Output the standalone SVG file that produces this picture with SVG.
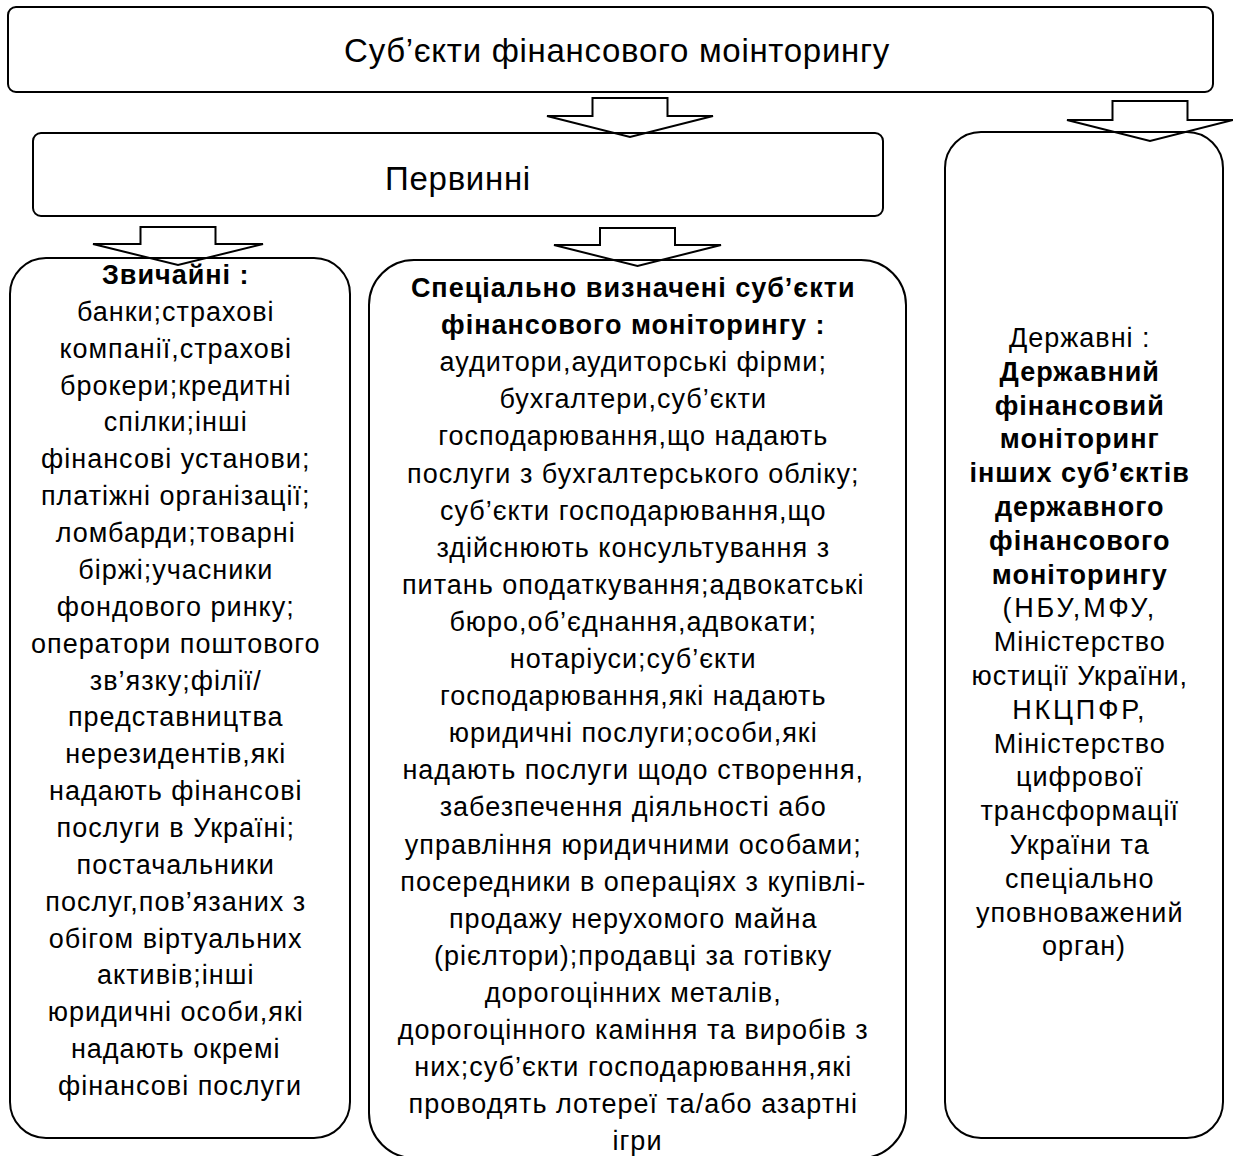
<svg xmlns="http://www.w3.org/2000/svg" width="1233" height="1156" viewBox="0 0 1233 1156">
<style>
.box{fill:#fff;stroke:#000;stroke-width:2}
.arr{fill:none;stroke:#000;stroke-width:2;stroke-linejoin:miter}
text{font-family:"Liberation Sans",Arial,sans-serif;fill:#000;text-anchor:middle}
.t{font-size:27px;letter-spacing:1px}
.h{font-size:33px;letter-spacing:0.7px}
.b{font-weight:bold}
.caps{letter-spacing:2.8px}
</style>
<rect width="1233" height="1156" fill="#fff"/>
<g id="node-top">
<rect class="box" x="8" y="7" width="1205" height="85" rx="8"/>
<text class="h" x="617" y="62">Суб’єкти фінансового моінторингу</text>
</g>
<g id="node-primary">
<rect class="box" x="33" y="133" width="850" height="83" rx="8"/>
<text class="h" x="458" y="190">Первинні</text>
</g>
<g id="node-state">
<rect class="box" x="945" y="132" width="278" height="1006" rx="36"/>
<text class="t">
<tspan x="1084" y="347">Державні :</tspan>
<tspan class="b" x="1084" y="380.8">Державний</tspan>
<tspan class="b" x="1084" y="414.6">фінансовий</tspan>
<tspan class="b" x="1084" y="448.4">моніторинг</tspan>
<tspan class="b" x="1084" y="482.2">інших суб’єктів</tspan>
<tspan class="b" x="1084" y="516">державного</tspan>
<tspan class="b" x="1084" y="549.8">фінансового</tspan>
<tspan class="b" x="1084" y="583.6">моніторингу</tspan>
<tspan class="caps" x="1084" y="617.4">(НБУ,МФУ,</tspan>
<tspan x="1084" y="651.2">Міністерство</tspan>
<tspan x="1084" y="685">юстиції України,</tspan>
<tspan class="caps" x="1084" y="718.8">НКЦПФР,</tspan>
<tspan x="1084" y="752.6">Міністерство</tspan>
<tspan x="1084" y="786.4">цифрової</tspan>
<tspan x="1084" y="820.2">трансформації</tspan>
<tspan x="1084" y="854">України та</tspan>
<tspan x="1084" y="887.8">спеціально</tspan>
<tspan x="1084" y="921.6">уповноважений</tspan>
<tspan x="1084" y="955.4">орган)</tspan>
</text>
</g>
<g id="node-ordinary">
<rect class="box" x="10" y="258" width="340" height="880" rx="36"/>
<text class="t">
<tspan class="b" x="180" y="284">Звичайні :</tspan>
<tspan x="180" y="320.9">банки;страхові</tspan>
<tspan x="180" y="357.7">компанії,страхові</tspan>
<tspan x="180" y="394.6">брокери;кредитні</tspan>
<tspan x="180" y="431.4">спілки;інші</tspan>
<tspan x="180" y="468.3">фінансові установи;</tspan>
<tspan x="180" y="505.2">платіжні організації;</tspan>
<tspan x="180" y="542">ломбарди;товарні</tspan>
<tspan x="180" y="578.9">біржі;учасники</tspan>
<tspan x="180" y="615.7">фондового ринку;</tspan>
<tspan x="180" y="652.6">оператори поштового</tspan>
<tspan x="180" y="689.5">зв’язку;філії/</tspan>
<tspan x="180" y="726.3">представництва</tspan>
<tspan x="180" y="763.2">нерезидентів,які</tspan>
<tspan x="180" y="800">надають фінансові</tspan>
<tspan x="180" y="836.9">послуги в Україні;</tspan>
<tspan x="180" y="873.8">постачальники</tspan>
<tspan x="180" y="910.6">послуг,пов’язаних з</tspan>
<tspan x="180" y="947.5">обігом віртуальних</tspan>
<tspan x="180" y="984.3">активів;інші</tspan>
<tspan x="180" y="1021.2">юридичні особи,які</tspan>
<tspan x="180" y="1058.1">надають окремі</tspan>
<tspan x="180" y="1094.9">фінансові послуги</tspan>
</text>
</g>
<g id="node-special">
<rect class="box" x="369" y="260" width="537" height="898" rx="45"/>
<text class="t">
<tspan class="b" x="637.5" y="297">Спеціально визначені суб’єкти</tspan>
<tspan class="b" x="637.5" y="334.1">фінансового моніторингу :</tspan>
<tspan x="637.5" y="371.2">аудитори,аудиторські фірми;</tspan>
<tspan x="637.5" y="408.3">бухгалтери,суб’єкти</tspan>
<tspan x="637.5" y="445.4">господарювання,що надають</tspan>
<tspan x="637.5" y="482.5">послуги з бухгалтерського обліку;</tspan>
<tspan x="637.5" y="519.6">суб’єкти господарювання,що</tspan>
<tspan x="637.5" y="556.7">здійснюють консультування з</tspan>
<tspan x="637.5" y="593.8">питань оподаткування;адвокатські</tspan>
<tspan x="637.5" y="630.9">бюро,об’єднання,адвокати;</tspan>
<tspan x="637.5" y="668">нотаріуси;суб’єкти</tspan>
<tspan x="637.5" y="705.1">господарювання,які надають</tspan>
<tspan x="637.5" y="742.2">юридичні послуги;особи,які</tspan>
<tspan x="637.5" y="779.3">надають послуги щодо створення,</tspan>
<tspan x="637.5" y="816.4">забезпечення діяльності або</tspan>
<tspan x="637.5" y="853.5">управління юридичними особами;</tspan>
<tspan x="637.5" y="890.6">посередники в операціях з купівлі-</tspan>
<tspan x="637.5" y="927.7">продажу нерухомого майна</tspan>
<tspan x="637.5" y="964.8">(рієлтори);продавці за готівку</tspan>
<tspan x="637.5" y="1001.9">дорогоцінних металів,</tspan>
<tspan x="637.5" y="1039">дорогоцінного каміння та виробів з</tspan>
<tspan x="637.5" y="1076.1">них;суб’єкти господарювання,які</tspan>
<tspan x="637.5" y="1113.2">проводять лотереї та/або азартні</tspan>
<tspan x="637.5" y="1150.3">ігри</tspan>
</text>
</g>
<g id="connectors">
<polygon class="arr" points="592.5,98 667.5,98 667.5,116 713,116 630,137 547,116 592.5,116"/>
<polygon class="arr" points="1112.5,101 1187.5,101 1187.5,120 1233,120 1150,141 1067,120 1112.5,120"/>
<polygon class="arr" points="140.5,227 215.5,227 215.5,244 263,244 178,265 93,244 140.5,244"/>
<polygon class="arr" points="600,228 675,228 675,245 721,245 637.5,266 554,245 600,245"/>
</g>
</svg>
